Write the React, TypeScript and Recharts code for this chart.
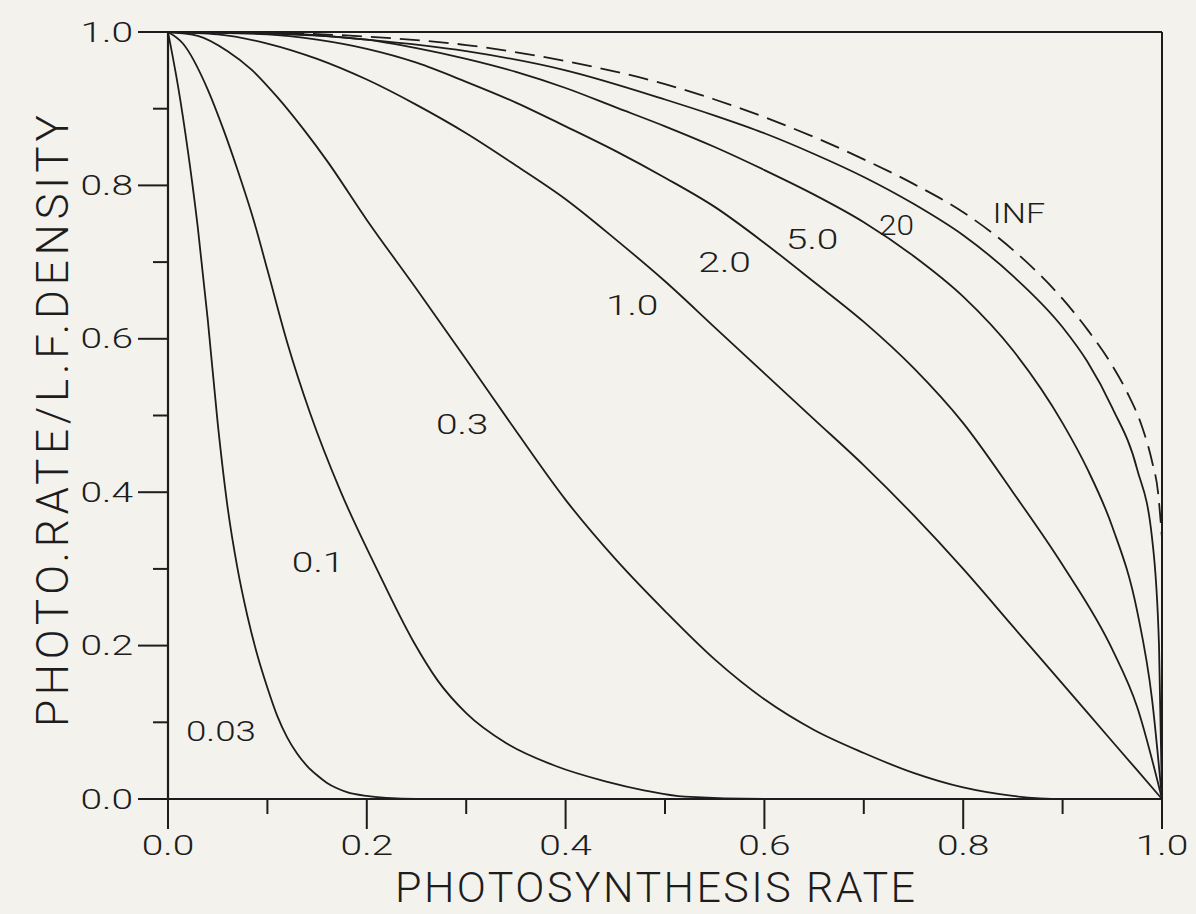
import React from 'react';
import { LineChart, Line, XAxis, YAxis, ReferenceLine, ReferenceDot } from 'recharts';

const INK = '#1d1d1d';
const PAPER = '#f4f2ed';
const FONT = 'Roboto, "DejaVu Sans", sans-serif';

const xTicks = [0, 0.1, 0.2, 0.3, 0.4, 0.5, 0.6, 0.7, 0.8, 0.9, 1.0];
const yTicks = [0, 0.1, 0.2, 0.3, 0.4, 0.5, 0.6, 0.7, 0.8, 0.9, 1.0];
const majorTicks = [0, 0.2, 0.4, 0.6, 0.8, 1.0];

// [photosynthesis rate, photo.rate / l.f. density]
const c003: [number, number][] = [
  [0, 1], [0.01, 0.93], [0.02, 0.845], [0.03, 0.745], [0.04, 0.625], [0.05, 0.49],
  [0.06, 0.38], [0.07, 0.3], [0.08, 0.238], [0.09, 0.187], [0.1, 0.145], [0.11, 0.108],
  [0.12, 0.08], [0.13, 0.059], [0.14, 0.043], [0.15, 0.031], [0.16, 0.021], [0.17, 0.014],
  [0.18, 0.009], [0.2, 0.004], [0.22, 0.0015], [0.25, 0], [1, 0],
];
const c01: [number, number][] = [
  [0, 1], [0.015, 0.985], [0.04, 0.925], [0.056, 0.872], [0.07, 0.82], [0.087, 0.751],
  [0.1, 0.69], [0.12, 0.595], [0.143, 0.503], [0.173, 0.403], [0.21, 0.3], [0.247, 0.205],
  [0.271, 0.155], [0.3, 0.112], [0.34, 0.073], [0.39, 0.043], [0.44, 0.023], [0.48, 0.011],
  [0.52, 0.003], [0.6, 0], [1, 0],
];
const c03: [number, number][] = [
  [0, 1], [0.03, 0.995], [0.06, 0.975], [0.084, 0.951], [0.11, 0.915], [0.137, 0.872],
  [0.16, 0.832], [0.2, 0.755], [0.25, 0.665], [0.3, 0.573], [0.35, 0.48], [0.4, 0.39],
  [0.45, 0.313], [0.5, 0.245], [0.55, 0.182], [0.6, 0.13], [0.65, 0.09], [0.7, 0.06],
  [0.75, 0.034], [0.8, 0.015], [0.85, 0.004], [0.9, 0], [1, 0],
];
const c1: [number, number][] = [
  [0, 1], [0.05, 0.997], [0.1, 0.985], [0.15, 0.965], [0.2, 0.938], [0.25, 0.905],
  [0.3, 0.868], [0.35, 0.826], [0.4, 0.782], [0.45, 0.73], [0.5, 0.675], [0.55, 0.615],
  [0.6, 0.555], [0.65, 0.495], [0.7, 0.435], [0.75, 0.37], [0.8, 0.3], [0.85, 0.225],
  [0.9, 0.15], [0.95, 0.075], [1, 0],
];
const c2: [number, number][] = [
  [0, 1], [0.1, 0.997], [0.15, 0.99], [0.2, 0.978], [0.25, 0.96], [0.3, 0.935],
  [0.35, 0.908], [0.4, 0.877], [0.45, 0.845], [0.5, 0.81], [0.55, 0.772], [0.6, 0.725],
  [0.65, 0.674], [0.7, 0.622], [0.75, 0.562], [0.8, 0.49], [0.85, 0.4], [0.9, 0.305],
  [0.95, 0.195], [0.975, 0.12], [1, 0],
];
const c5: [number, number][] = [
  [0, 1], [0.1, 0.998], [0.2, 0.99], [0.25, 0.979], [0.3, 0.965], [0.35, 0.948],
  [0.4, 0.927], [0.45, 0.902], [0.5, 0.877], [0.55, 0.85], [0.6, 0.82], [0.65, 0.788],
  [0.7, 0.752], [0.75, 0.708], [0.8, 0.655], [0.85, 0.585], [0.9, 0.49], [0.925, 0.43],
  [0.95, 0.355], [0.975, 0.245], [0.99, 0.13], [1, 0],
];
const c20: [number, number][] = [
  [0, 1], [0.1, 0.999], [0.2, 0.99], [0.3, 0.975], [0.4, 0.95], [0.5, 0.912],
  [0.55, 0.891], [0.6, 0.868], [0.65, 0.841], [0.7, 0.811], [0.75, 0.776], [0.8, 0.735],
  [0.85, 0.682], [0.9, 0.615], [0.925, 0.57], [0.95, 0.51], [0.975, 0.43], [0.99, 0.34],
  [0.997, 0.2], [1, 0],
];
const cInf: [number, number][] = [
  [0, 1], [0.1, 0.999], [0.2, 0.994], [0.3, 0.983], [0.4, 0.962], [0.5, 0.932],
  [0.55, 0.912], [0.6, 0.889], [0.65, 0.863], [0.7, 0.834], [0.75, 0.802], [0.8, 0.765],
  [0.85, 0.716], [0.9, 0.652], [0.925, 0.612], [0.95, 0.565], [0.965, 0.53], [0.98, 0.485],
  [0.99, 0.44], [0.996, 0.4], [1, 0.34],
];

const series = [
  { name: '0.03', pts: c003, dashed: false },
  { name: '0.1', pts: c01, dashed: false },
  { name: '0.3', pts: c03, dashed: false },
  { name: '1.0', pts: c1, dashed: false },
  { name: '2.0', pts: c2, dashed: false },
  { name: '5.0', pts: c5, dashed: false },
  { name: '20', pts: c20, dashed: false },
  { name: 'INF', pts: cInf, dashed: true },
];

const curveLabels = [
  { text: '0.03', x: 0.0533, y: 0.0887 },
  { text: '0.1', x: 0.151, y: 0.308 },
  { text: '0.3', x: 0.296, y: 0.488 },
  { text: '1.0', x: 0.467, y: 0.643 },
  { text: '2.0', x: 0.56, y: 0.7 },
  { text: '5.0', x: 0.648, y: 0.73 },
  { text: '20', x: 0.733, y: 0.748 },
  { text: 'INF', x: 0.856, y: 0.764 },
];

const isMajor = (v: number) => majorTicks.some((m) => Math.abs(m - v) < 1e-9);

const SmallText = ({ x, y, text, anchor = 'middle' }: any) => (
  <text
    x={x}
    y={y}
    dy="0.355em"
    textAnchor={anchor}
    fontFamily={FONT}
    fontWeight={300}
    fontSize={27}
    fill={INK}
    textLength={17.5 * text.length}
    lengthAdjust="spacingAndGlyphs"
  >
    {text}
  </text>
);

const XTick = (props: any) => {
  const { x, y, payload } = props;
  const v: number = payload.value;
  const major = isMajor(v);
  return (
    <g>
      <line x1={x} y1={y} x2={x} y2={y + (major ? 30 : 15)} stroke={INK} strokeWidth={2} />
      {major && <SmallText x={x} y={y + 46} text={v.toFixed(1)} />}
    </g>
  );
};

const YTick = (props: any) => {
  const { x, y, payload } = props;
  const v: number = payload.value;
  const major = isMajor(v);
  return (
    <g>
      <line x1={x - (major ? 30 : 15)} y1={y} x2={x} y2={y} stroke={INK} strokeWidth={2} />
      {major && <SmallText x={x - 35} y={y} text={v.toFixed(1)} anchor="end" />}
    </g>
  );
};

const XTitle = () => (
  <text
    x={655}
    y={887}
    dy="0.355em"
    textAnchor="middle"
    fontFamily={FONT}
    fontWeight={300}
    fontSize={43}
    fill={INK}
    textLength={520}
    lengthAdjust="spacing"
  >
    PHOTOSYNTHESIS RATE
  </text>
);

const YTitle = () => (
  <text
    x={52}
    y={421}
    dy="0.355em"
    transform="rotate(-90 52 421)"
    textAnchor="middle"
    fontFamily={FONT}
    fontWeight={300}
    fontSize={44}
    fill={INK}
    textLength={612}
    lengthAdjust="spacing"
  >
    PHOTO.RATE/L.F.DENSITY
  </text>
);

export default function App() {
  return (
    <div style={{ position: 'absolute', left: 0, top: 0, width: 1196, height: 914, background: PAPER }}>
      <LineChart width={1196} height={914} margin={{ top: 32, right: 34, left: 0, bottom: 55 }}>
        <XAxis
          type="number"
          dataKey="x"
          domain={[0, 1]}
          ticks={xTicks}
          interval={0}
          height={60}
          tickSize={0}
          tickMargin={0}
          tickLine={false}
          tick={<XTick />}
          axisLine={{ stroke: INK, strokeWidth: 2.2 }}
          label={() => <XTitle />}
        />
        <YAxis
          type="number"
          dataKey="y"
          domain={[0, 1]}
          ticks={yTicks}
          interval={0}
          width={168}
          tickSize={0}
          tickMargin={0}
          tickLine={false}
          tick={<YTick />}
          axisLine={{ stroke: INK, strokeWidth: 2.2 }}
          label={() => <YTitle />}
        />
        <ReferenceLine y={1} stroke={INK} strokeWidth={2} />
        <ReferenceLine x={1} stroke={INK} strokeWidth={2} />
        {series.map((s) => (
          <Line
            key={s.name}
            data={s.pts.map(([x, y]) => ({ x, y }))}
            dataKey="y"
            type="monotone"
            stroke={INK}
            strokeWidth={1.8}
            strokeDasharray={s.dashed ? '20 9' : undefined}
            dot={false}
            activeDot={false}
            isAnimationActive={false}
          />
        ))}
        {curveLabels.map((l) => (
          <ReferenceDot
            key={l.text}
            x={l.x}
            y={l.y}
            r={0}
            shape={(p: any) => <SmallText x={p.cx} y={p.cy} text={l.text} />}
          />
        ))}
      </LineChart>
    </div>
  );
}
